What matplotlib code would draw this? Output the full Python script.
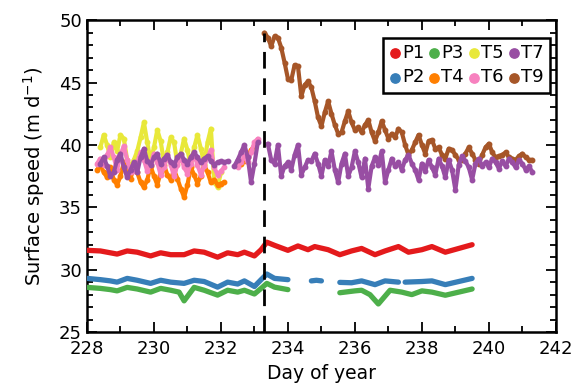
import numpy as np
import matplotlib
matplotlib.use("Agg")
import matplotlib.pyplot as plt
from matplotlib.ticker import MultipleLocator

nan = np.nan

# pressure sensors (day, value); nan = gap
p1_day = [228.0, 228.4, 228.7, 228.9, 229.2, 229.5, 229.9, 230.2, 230.5, 230.9, 231.2, 231.5,
          231.9, 232.2, 232.5, 232.7, 233.0, 233.2, 233.37, 233.6, 234.0, 234.3, 234.6, 234.8,
          235.2, 235.55, 235.9, 236.2, 236.6, 236.9, 237.3, 237.6, 238.0, 238.3, 238.7, 239.1, 239.5]
p1_val = [31.55, 31.5, 31.35, 31.25, 31.5, 31.4, 31.1, 31.35, 31.2, 31.2, 31.5, 31.4,
          31.0, 31.35, 31.2, 31.4, 31.1, 31.6, 32.2, 31.95, 31.55, 31.9, 31.6, 31.85,
          31.6, 31.2, 31.5, 31.7, 31.2, 31.5, 31.85, 31.4, 31.6, 31.85, 31.4, 31.7, 32.0]

p2_day = [228.0, 228.4, 228.7, 228.9, 229.2, 229.5, 229.9, 230.2, 230.5, 230.9, 231.2, 231.5,
          231.9, 232.2, 232.5, 232.7, 233.0, 233.2, 233.37, 233.6, 234.0, 234.3,
          234.7, 234.85, 235.0, 235.2,
          235.55, 235.9, 236.2, 236.6, 236.9, 237.3, 237.4,
          237.5, 238.0, 238.3, 238.7, 239.1, 239.5]
p2_val = [29.3, 29.2, 29.1, 29.0, 29.3, 29.15, 28.9, 29.15, 29.0, 28.9, 29.15, 29.05,
          28.6, 29.0, 28.85, 29.1, 28.65, 29.2, 29.65, 29.3, 29.2, nan,
          29.1, 29.15, 29.1, nan,
          28.98, 28.95, 29.1, 28.8, 29.1, 29.0, nan,
          29.0, 29.05, 29.1, 28.8, 29.05, 29.3]

p3_day = [228.0, 228.4, 228.7, 228.9, 229.2, 229.5, 229.9, 230.2, 230.5, 230.75, 230.9, 231.2,
          231.5, 231.9, 232.2, 232.5, 232.7, 233.0, 233.2, 233.37, 233.6, 234.0, 234.5,
          235.55, 236.0, 236.2, 236.45, 236.7, 237.05, 237.4, 237.7, 238.0, 238.3, 238.7,
          239.1, 239.5]
p3_val = [28.58, 28.5, 28.4, 28.3, 28.58, 28.45, 28.2, 28.5, 28.35, 28.2, 27.5, 28.58,
          28.35, 27.96, 28.35, 28.2, 28.35, 28.05, 28.5, 28.9, 28.6, 28.4, nan,
          28.15, 28.3, 28.35, 28.0, 27.25, 28.35, 28.2, 28.0, 28.3, 28.2, 27.95,
          28.2, 28.45]

# GPS tracks, 0.1 day spacing
t4_a = [38.0, 38.4, 37.8, 37.4, 38.2, 37.2, 36.8, 37.5, 38.6, 37.8,
        37.3, 38.2, 37.8, 37.0, 36.6, 37.2, 38.3, 37.5, 36.8, 37.8,
        38.4, 37.6, 37.2, 38.0, 37.3, 36.5, 35.8, 36.8, 38.2, 37.6,
        36.9, 37.5, 38.4, 37.8, 37.0, 37.2, 36.8, 36.9, 37.0]          # 228.3-232.1
t4_b = [38.3, 38.5, 38.7, 39.0, 39.6, 39.9]                          # 232.5-233.0

t5_a = [39.8, 40.8, 40.0, 39.0, 40.2, 39.5, 40.8, 40.5, 38.8, 38.2,
        38.8, 39.5, 40.6, 41.8, 40.2, 38.7, 39.8, 41.2, 40.3, 38.6,
        39.4, 40.6, 40.2, 38.5, 39.3, 40.5, 39.6, 38.3, 39.8, 40.8,
        39.7, 38.5, 40.2, 41.3, 37.0, 36.6, 37.8]                    # 228.4-232.0

t6_a = [38.5, 38.9, 38.4, 39.2, 39.8, 39.0, 38.0, 39.2, 39.9, 38.8,
        37.8, 37.9, 38.6, 39.4, 38.8, 37.9, 38.5, 39.3, 38.6, 37.6,
        38.2, 39.2, 38.4, 37.5, 38.4, 39.1, 38.2, 37.7, 38.5, 39.2,
        38.4, 37.6, 38.3, 39.0, 39.6, 38.2, 37.6, 37.9, 38.2]          # 228.3-232.1
t6_b = [38.2, 38.6, 39.1, 38.6, 39.4, 40.2, 40.5]                    # 232.5-233.1

t7_a = [38.5, 39.0, 38.3, 37.5, 37.8, 38.8, 39.3, 38.2, 37.4, 38.0,
        38.6, 37.8, 39.0, 39.7, 38.7, 38.4, 39.0, 39.3, 38.5, 38.9,
        39.2, 38.6, 38.4, 39.0, 39.3, 38.8, 38.5, 39.0, 39.4, 39.0,
        38.6, 38.9, 39.1, 38.7, 38.4, 38.6, 38.7, 38.6, 38.7]          # 228.4-232.2
t7_b = [38.3, 38.8, 39.4, 40.0, 39.0, 37.0, 38.5, 40.2]              # 232.4-233.1
t7_c = [40.1, 38.8, 38.5, 40.0, 37.5, 38.3, 38.6, 38.0, 39.2, 40.0,
        37.6, 38.2, 38.8, 38.7, 39.3, 38.5, 37.5, 38.8, 38.3, 39.5,
        38.0, 37.0, 38.5, 39.3, 37.5, 38.2, 39.5, 38.6, 37.4, 38.9,
        36.5, 38.3, 39.0, 38.4, 39.5, 37.0, 38.0, 38.9, 38.3, 38.6,
        38.0, 38.8, 39.2, 38.5, 38.0, 37.2, 38.5, 37.9, 38.8, 38.2,
        37.6, 38.9, 38.3, 37.4, 38.8, 38.0, 36.4, 38.4, 39.1, 38.7,
        38.2, 37.2, 38.5, 38.9, 38.3, 38.6, 38.2, 38.9, 38.6, 38.1,
        38.7, 38.3, 38.9, 38.6, 38.2, 38.8, 38.5, 38.0, 38.3, 37.8]    # 233.4-241.3

t9 = [49.0, 48.6, 47.9, 48.7, 48.6, 47.8, 46.6, 45.3, 45.2, 46.4,
      46.3, 43.9, 44.8, 45.1, 44.6, 43.5, 42.2, 41.5, 42.6, 43.5,
      42.5, 41.6, 40.9, 41.0, 41.9, 42.7, 41.8, 41.2, 41.4, 41.0,
      41.6, 42.0, 41.0, 40.3, 41.0, 41.9, 41.2, 40.5, 40.9, 40.6,
      41.3, 41.0, 40.0, 39.2, 39.6, 40.2, 40.8, 40.0, 39.3, 40.3,
      40.4, 39.7, 39.8, 39.2, 38.9, 39.7, 39.6, 39.2, 38.8, 38.8,
      39.3, 39.8, 39.3, 38.8, 38.5, 39.2, 39.8, 40.1, 39.4, 39.0,
      39.1, 39.2, 39.4, 39.0, 38.9, 38.8, 39.1, 39.3, 39.0, 38.8, 38.8]  # 233.3-241.3

event_day = 233.28

colors = {"P1": "#e41a1c", "P2": "#377eb8", "P3": "#4daf4a", "T4": "#ff7f00",
          "T5": "#e8e83a", "T6": "#f781bf", "T7": "#984ea3", "T9": "#a65628"}


def days(start, vals):
    return start + 0.1 * np.arange(len(vals))


fig = plt.figure(figsize=(5.76, 3.87), dpi=100)
ax = fig.add_axes([0.151, 0.142, 0.814, 0.806])

tkw = dict(ls="-", lw=3.0, marker="o", ms=3.2, solid_capstyle="round",
           solid_joinstyle="round")
ax.plot(days(228.4, t5_a), t5_a, color=colors["T5"], zorder=2, **tkw)
ax.plot(days(228.3, t4_a), t4_a, color=colors["T4"], zorder=3, **tkw)
ax.plot(days(232.5, t4_b), t4_b, color=colors["T4"], zorder=3, **tkw)
ax.plot(days(228.3, t6_a), t6_a, color=colors["T6"], zorder=4, **tkw)
ax.plot(days(232.5, t6_b), t6_b, color=colors["T6"], zorder=4, **tkw)
ax.plot(days(228.4, t7_a), t7_a, color=colors["T7"], zorder=5, **tkw)
ax.plot(days(232.4, t7_b), t7_b, color=colors["T7"], zorder=5, **tkw)
ax.plot(days(233.4, t7_c), t7_c, color=colors["T7"], zorder=5, **tkw)
ax.plot(days(233.3, t9), t9, color=colors["T9"], zorder=4, **tkw)

pkw = dict(lw=3.8, solid_capstyle="round", solid_joinstyle="round", zorder=6)
ax.plot(p1_day, p1_val, color=colors["P1"], **pkw)
ax.plot(p2_day, p2_val, color=colors["P2"], **pkw)
ax.plot(p3_day, p3_val, color=colors["P3"], **pkw)

ax.plot([event_day, event_day], [25, 49], color="black", lw=2, ls=(0, (6, 3.5)), zorder=7)

# legend
order = ["P1", "P2", "P3", "T4", "T5", "T6", "T7", "T9"]
handles = [ax.scatter([], [], s=45, color=colors[k], label=k) for k in order]
leg = ax.legend(handles=handles, ncol=4, loc="upper right", fontsize=13,
                handlelength=0.6, handletextpad=0.1, columnspacing=0.25,
                labelspacing=0.35, borderpad=0.35, borderaxespad=0.2,
                fancybox=False, framealpha=1, bbox_to_anchor=(0.995, 0.955))
leg.get_frame().set_edgecolor("black")
leg.get_frame().set_linewidth(1.8)

ax.set_xlim(228, 242)
ax.set_ylim(25, 50)
ax.xaxis.set_major_locator(MultipleLocator(2))
ax.xaxis.set_minor_locator(MultipleLocator(1))
ax.yaxis.set_major_locator(MultipleLocator(5))
ax.yaxis.set_minor_locator(MultipleLocator(1))
ax.tick_params(which="both", direction="in", top=True, right=True, labelsize=13, width=1.3)
ax.tick_params(which="major", length=7)
ax.tick_params(axis="x", pad=6)
ax.tick_params(which="minor", length=4)
for s in ax.spines.values():
    s.set_linewidth(1.8)
ax.set_xlabel("Day of year", fontsize=13.5, labelpad=4)
ax.set_ylabel("Surface speed (m d$^{-1}$)", fontsize=14, labelpad=9)

fig.savefig("out.png", dpi=100)
